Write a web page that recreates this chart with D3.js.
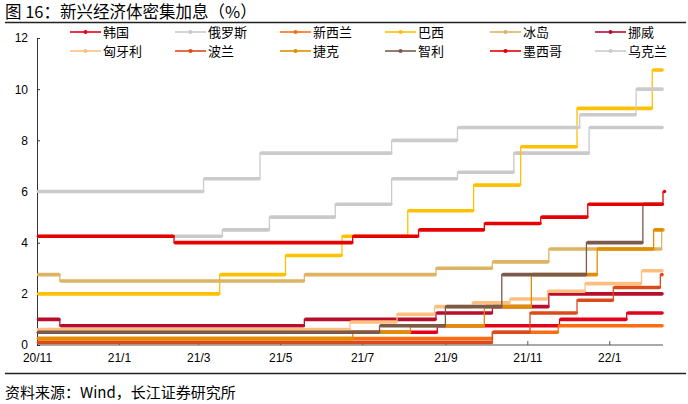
<!DOCTYPE html>
<html>
<head>
<meta charset="utf-8">
<script src="https://cdn.jsdelivr.net/npm/d3@7"></script>
<style>
  body { margin: 0; background: #fff; }
  svg { display: block; font-family: "Liberation Sans", Arial, sans-serif; }
  .cjk { font-family: "Noto Sans CJK SC", "Noto Sans", sans-serif; }
</style>
</head>
<body>
<div id="graph"></div>
<script>
// policy rate change points [date, rate]
var korea   = [["2020-11-01", 0.5], ["2021-08-26", 0.75], ["2021-11-25", 1.0], ["2022-01-14", 1.25]];
var russia  = [["2020-11-01", 4.25], ["2021-03-19", 4.5], ["2021-04-23", 5.0], ["2021-06-11", 5.5], ["2021-07-23", 6.5], ["2021-09-10", 6.75], ["2021-10-22", 7.5], ["2021-12-17", 8.5]];
var nz      = [["2020-11-01", 0.25], ["2021-10-06", 0.5], ["2021-11-24", 0.75]];
var brazil  = [["2020-11-01", 2.0], ["2021-03-17", 2.75], ["2021-05-05", 3.5], ["2021-06-16", 4.25], ["2021-08-04", 5.25], ["2021-09-22", 6.25], ["2021-10-27", 7.75], ["2021-12-08", 9.25], ["2022-02-02", 10.75]];
var iceland = [["2020-11-01", 2.75], ["2020-11-18", 2.5], ["2021-05-19", 2.75], ["2021-08-25", 3.0], ["2021-10-06", 3.25], ["2021-11-17", 3.75], ["2022-02-09", 4.5]];
var norway  = [["2020-11-01", 1.0], ["2020-11-18", 0.75], ["2021-05-19", 1.0], ["2021-08-25", 1.25], ["2021-10-06", 1.5], ["2021-11-17", 2.0]];
var hungary = [["2020-11-01", 0.6], ["2021-06-22", 0.9], ["2021-07-27", 1.2], ["2021-08-24", 1.5], ["2021-09-21", 1.65], ["2021-10-19", 1.8], ["2021-11-16", 2.1], ["2021-12-14", 2.4], ["2022-01-25", 2.9]];
var poland  = [["2020-11-01", 0.1], ["2021-10-06", 0.5], ["2021-11-03", 1.25], ["2021-12-08", 1.75], ["2022-01-04", 2.25], ["2022-02-08", 2.75]];
var czech   = [["2020-11-01", 0.25], ["2021-06-24", 0.5], ["2021-08-06", 0.75], ["2021-09-30", 1.5], ["2021-11-04", 2.75], ["2021-12-23", 3.75], ["2022-02-03", 4.5]];
var chile   = [["2020-11-01", 0.5], ["2021-07-14", 0.75], ["2021-09-01", 1.5], ["2021-10-13", 2.75], ["2021-12-15", 4.0], ["2022-01-26", 5.5]];
var mexico  = [["2020-11-01", 4.25], ["2021-02-11", 4.0], ["2021-06-24", 4.25], ["2021-08-12", 4.5], ["2021-09-30", 4.75], ["2021-11-11", 5.0], ["2021-12-16", 5.5], ["2022-02-10", 6.0]];
var ukraine = [["2020-11-01", 6.0], ["2021-03-05", 6.5], ["2021-04-16", 7.5], ["2021-07-23", 8.0], ["2021-09-10", 8.5], ["2021-12-10", 9.0], ["2022-01-21", 10.0]];

var names = ["韩国", "俄罗斯", "新西兰", "巴西", "冰岛", "挪威", "匈牙利", "波兰", "捷克", "智利", "墨西哥", "乌克兰"];
var seriesData = [korea, russia, nz, brazil, iceland, norway, hungary, poland, czech, chile, mexico, ukraine];
var colors = ["#e3001b", "#c9c9c9", "#fb6d12", "#ffc000", "#dcb464", "#b80d2b", "#fdbf80", "#dc4a1c", "#e08d00", "#7c5a4b", "#e60000", "#cbcbcb"];

var startDate = "2020-11-01";
var endDate = "2022-02-10";
var xTickLabels = ["20/11", "21/1", "21/3", "21/5", "21/7", "21/9", "21/11", "22/1"];
var yTicks = [0, 2, 4, 6, 8, 10, 12];

var W = 688, H = 404;
var parse = d3.timeParse("%Y-%m-%d");
var x = d3.scaleTime().domain([parse(startDate), parse(endDate)]).range([37, 663]);
var y = d3.scaleLinear().domain([0, 12]).range([345, 38]);

var svg = d3.select("#graph").append("svg").attr("width", W).attr("height", H);

// title and rules
svg.append("text").attr("class", "cjk").attr("x", 5).attr("y", 18)
    .style("font-size", "16.5px").text("图 16：新兴经济体密集加息（%）");
svg.append("line").attr("x1", 5).attr("x2", 686).attr("y1", 22.5).attr("y2", 22.5)
    .attr("stroke", "#222").attr("stroke-width", 1.3);
svg.append("line").attr("x1", 5).attr("x2", 686).attr("y1", 373.5).attr("y2", 373.5)
    .attr("stroke", "#222").attr("stroke-width", 1.3);
svg.append("text").attr("class", "cjk").attr("x", 5).attr("y", 398)
    .style("font-size", "15px").text("资料来源：Wind，长江证券研究所");

// axes
var xTickDates = xTickLabels.map(function(s) {
    var p = s.split("/");
    return new Date(2000 + +p[0], +p[1] - 1, 1);
});
var xAxis = svg.append("g").attr("transform", "translate(0,345)")
    .call(d3.axisBottom(x).tickValues(xTickDates).tickSize(-4).tickPadding(8)
        .tickFormat(function(d, i) { return xTickLabels[i]; }));
xAxis.select(".domain").attr("stroke", "#555").attr("d", "M37,0H663");
xAxis.selectAll(".tick line").attr("stroke", "#555");
xAxis.selectAll("text").style("font-size", "12px").attr("fill", "#000");

var yAxis = svg.append("g").attr("transform", "translate(37,0)")
    .call(d3.axisLeft(y).tickValues(yTicks).tickSize(-3).tickPadding(9));
yAxis.select(".domain").attr("stroke", "#333");
yAxis.selectAll(".tick line").attr("stroke", "#333");
yAxis.selectAll("text").style("font-size", "12px").attr("fill", "#000");

// series
var line = d3.line().curve(d3.curveStepAfter)
    .x(function(d) { return x(d.date); })
    .y(function(d) { return y(d.value); });

seriesData.forEach(function(raw, i) {
    var pts = raw.map(function(d) { return { date: parse(d[0]), value: d[1] }; });
    var end = parse(endDate);
    var segs = pts.map(function(d, j) {
        return { start: d.date, end: j < pts.length - 1 ? pts[j + 1].date : end, value: d.value };
    });
    var g = svg.append("g");
    g.append("path")
        .attr("fill", "none")
        .attr("stroke", colors[i])
        .attr("stroke-width", 1.3)
        .attr("d", line(pts.concat([{ date: end, value: pts[pts.length - 1].value }])));
    g.selectAll("line").data(segs).enter().append("line")
        .attr("x1", function(d) { return x(d.start) + 1.5; })
        .attr("x2", function(d) { return Math.max(x(d.start) + 1.5, x(d.end) - 1); })
        .attr("y1", function(d) { return y(d.value); })
        .attr("y2", function(d) { return y(d.value); })
        .attr("stroke", colors[i])
        .attr("stroke-width", 3.6)
        .attr("stroke-linecap", "round");
});

// legend
var legend = svg.append("g");
names.forEach(function(n, i) {
    var col = i % 6, row = Math.floor(i / 6);
    var lx = 70 + col * 105, ly = 32 + row * 19;
    legend.append("line").attr("x1", lx).attr("x2", lx + 31).attr("y1", ly).attr("y2", ly)
        .attr("stroke", colors[i]).attr("stroke-width", 1.6);
    legend.append("circle").attr("cx", lx + 15.5).attr("cy", ly).attr("r", 2.1).attr("fill", colors[i]);
    legend.append("text").attr("class", "cjk").attr("x", lx + 33).attr("y", ly + 4.5)
        .style("font-size", "13px").text(n);
});
</script>
</body>
</html>
